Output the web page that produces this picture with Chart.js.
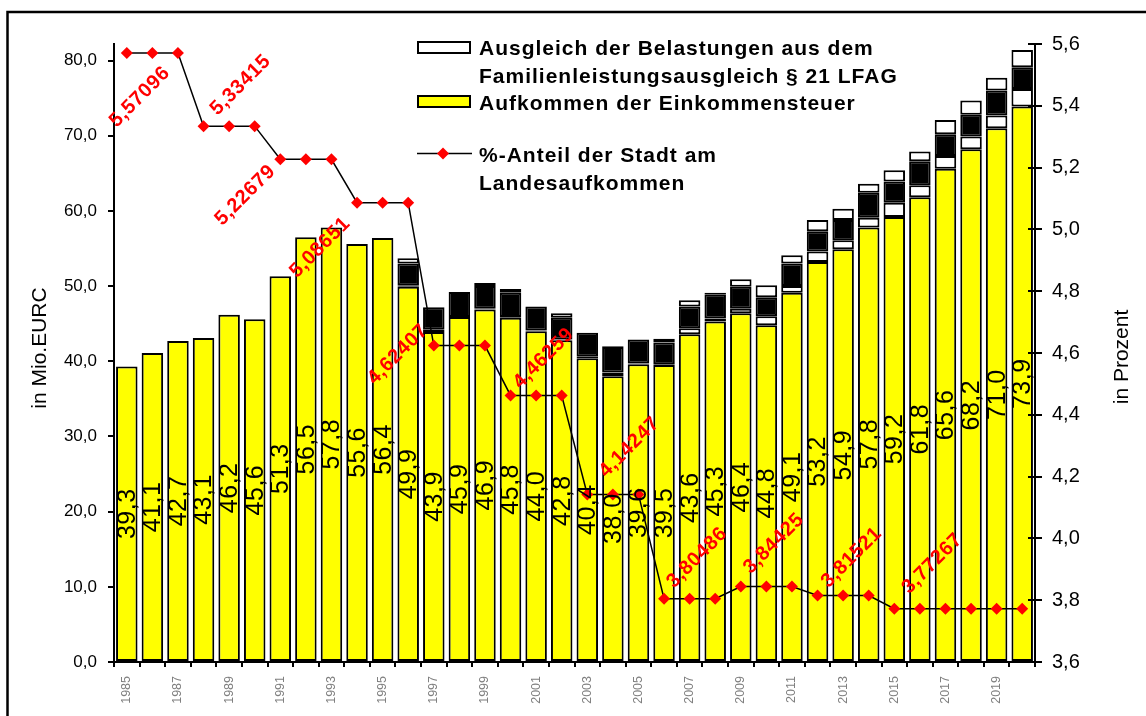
<!DOCTYPE html>
<html><head><meta charset="utf-8">
<script src="https://cdn.jsdelivr.net/npm/chart.js@4/dist/chart.umd.min.js"></script>
<style>html,body{margin:0;padding:0;background:#fff;}canvas{display:block;}</style>
</head><body>
<canvas id="c" width="1146" height="716"></canvas>
<script>
// ---------- DATA ----------
const years = ['1985','1986','1987','1988','1989','1990','1991','1992','1993','1994','1995','1996',
  '1997','1998','1999','2000','2001','2002','2003','2004','2005','2006','2007','2008','2009','2010',
  '2011','2012','2013','2014','2015','2016','2017','2018','2019','2020'];
const incomeTax = [39.3,41.1,42.7,43.1,46.2,45.6,51.3,56.5,57.8,55.6,56.4,49.9,
  43.9,45.9,46.9,45.8,44.0,42.8,40.4,38.0,39.6,39.5,43.6,45.3,46.4,44.8,
  49.1,53.2,54.9,57.8,59.2,61.8,65.6,68.2,71.0,73.9];
const ausgleichLower = [0,0,0,0,0,0,0,0,0,0,0,0.2,
  0.3,0,0.1,0.1,0.1,0.1,0.2,0.5,0.1,0.1,0.8,0.4,0.6,1.2,
  0.9,1.4,1.2,1.3,1.9,1.6,1.7,1.7,1.7,2.3];
const blackPart = [0,0,0,0,0,0,0,0,0,0,0,2.9,
  3.0,3.3,3.0,3.2,3.2,2.9,3.2,3.4,3.2,2.9,2.9,3.2,2.9,2.5,
  3.0,2.7,2.7,3.3,2.8,3.2,2.9,2.9,3.3,2.9];
const ausgleichUpper = [0,0,0,0,0,0,0,0,0,0,0,0.7,
  0,0,0.4,0.5,0,0.6,0,0.1,0,0.5,0.8,0.2,1.0,1.6,
  1.1,1.5,1.5,1.2,1.5,1.3,1.9,1.9,1.7,2.3];
const shareCity = [5.57096,5.57096,5.57096,5.33415,5.33415,5.33415,5.22679,5.22679,5.22679,
  5.08651,5.08651,5.08651,4.62407,4.62407,4.62407,4.46259,4.46259,4.46259,
  4.14247,4.14247,4.14247,3.80486,3.80486,3.80486,3.84425,3.84425,3.84425,
  3.81521,3.81521,3.81521,3.77267,3.77267,3.77267,3.77267,3.77267,3.77267];
const shareLabelIdx = [0,3,6,9,12,15,18,21,24,27,30];
const leftTicks = [0,10,20,30,40,50,60,70,80];
const rightTicks = [3.6,3.8,4.0,4.2,4.4,4.6,4.8,5.0,5.2,5.4,5.6];
const legendAusgleich = ['Ausgleich der Belastungen aus dem','Familienleistungsausgleich § 21 LFAG'];
const legendSteuer = ['Aufkommen der Einkommensteuer'];
const legendShare = ['%-Anteil der Stadt am','Landesaufkommen'];
const titleLeft = 'in Mio.EURC';
const titleRight = 'in Prozent';

// ---------- STYLE ----------
const FONT = '"Liberation Sans", Arial, Helvetica, sans-serif';
Chart.defaults.font.family = FONT;
const shareLabelOffsets = [[13,44],[37,-41],[-35,36],[-37,45],[-36,9],[33,-37],[42,-47],[33,-41],[33,-43],[34,-38],[38,-45]];
const fmt1 = v => Number(v).toFixed(1).replace('.', ',');

const decorPlugin = {
  id: 'decor',
  afterDatasetsDraw(chart) {
    const ctx = chart.ctx;
    // bar value labels (center of yellow segment)
    const mBar = chart.getDatasetMeta(0);
    ctx.save();
    ctx.font = '25px ' + FONT;
    ctx.letterSpacing = '0.5px';
    ctx.fillStyle = '#000';
    ctx.textAlign = 'center';
    ctx.textBaseline = 'middle';
    mBar.data.forEach((el, i) => {
      const cy = (el.y + el.base) / 2;
      ctx.save();
      ctx.translate(el.x + 1, cy);
      ctx.rotate(-Math.PI / 2);
      ctx.fillText(fmt1(incomeTax[i]), 0, 0);
      ctx.restore();
    });
    ctx.restore();
    // share labels
    const mLine = chart.getDatasetMeta(4);
    ctx.save();
    ctx.font = 'bold 20px ' + FONT;
    ctx.letterSpacing = '0.6px';
    ctx.fillStyle = '#ff0000';
    ctx.textAlign = 'center';
    ctx.textBaseline = 'middle';
    shareLabelIdx.forEach((idx, k) => {
      const el = mLine.data[idx];
      const o = shareLabelOffsets[k];
      ctx.save();
      ctx.translate(el.x + o[0], el.y + o[1]);
      ctx.rotate(-Math.PI / 4);
      ctx.fillText(String(shareCity[idx]).replace('.', ','), 0, 0);
      ctx.restore();
    });
    ctx.restore();
  },
  afterDraw(chart) {
    const ctx = chart.ctx;
    ctx.save();
    // inner tick marks of the right axis
    const y1 = chart.scales.y1;
    ctx.strokeStyle = '#000';
    ctx.lineWidth = 2;
    y1.ticks.forEach(t => {
      const py = Math.round(y1.getPixelForValue(t.value));
      ctx.beginPath(); ctx.moveTo(y1.left - 7, py); ctx.lineTo(y1.left, py); ctx.stroke();
    });
    // frame
    ctx.lineWidth = 2.5;
    ctx.strokeRect(7.5, 12, 1150, 720);
    // axis titles
    ctx.fillStyle = '#000';
    ctx.font = '21px ' + FONT;
    ctx.textAlign = 'center';
    ctx.textBaseline = 'middle';
    ctx.save(); ctx.translate(40, 348); ctx.rotate(-Math.PI/2); ctx.fillText(titleLeft, 0, 0); ctx.restore();
    ctx.save(); ctx.translate(1122, 357); ctx.rotate(-Math.PI/2); ctx.fillText(titleRight, 0, 0); ctx.restore();
    // legend
    ctx.lineWidth = 2;
    ctx.strokeStyle = '#000';
    ctx.fillStyle = '#ffffff';
    ctx.fillRect(418, 42, 52, 11); ctx.strokeRect(418, 42, 52, 11);
    ctx.fillStyle = '#ffff00';
    ctx.fillRect(418, 96, 52, 11); ctx.strokeRect(418, 96, 52, 11);
    ctx.lineWidth = 1.5;
    ctx.beginPath(); ctx.moveTo(417, 153.5); ctx.lineTo(472, 153.5); ctx.stroke();
    ctx.fillStyle = '#ff0000';
    ctx.beginPath(); ctx.moveTo(443, 147.5); ctx.lineTo(449, 153.5); ctx.lineTo(443, 159.5); ctx.lineTo(437, 153.5); ctx.closePath(); ctx.fill();
    ctx.fillStyle = '#000';
    ctx.font = 'bold 21px ' + FONT;
    ctx.letterSpacing = '1px';
    ctx.textAlign = 'left';
    ctx.textBaseline = 'alphabetic';
    ctx.fillText(legendAusgleich[0], 479, 54.5);
    ctx.fillText(legendAusgleich[1], 479, 82.5);
    ctx.fillText(legendSteuer[0], 479, 109.5);
    ctx.fillText(legendShare[0], 479, 161.5);
    ctx.fillText(legendShare[1], 479, 190);
    ctx.restore();
  }
};

const barCommon = {
  type: 'bar', stack: 's', yAxisID: 'y', order: 1,
  borderColor: '#000', borderWidth: 2, borderSkipped: false,
  categoryPercentage: 1.0, barPercentage: 0.84
};

new Chart(document.getElementById('c'), {
  data: {
    labels: years,
    datasets: [
      Object.assign({}, barCommon, { label: legendSteuer[0], data: incomeTax, backgroundColor: '#ffff00' }),
      Object.assign({}, barCommon, { label: legendAusgleich.join(' '), data: ausgleichLower, backgroundColor: '#ffffff' }),
      Object.assign({}, barCommon, { label: '', data: blackPart, backgroundColor: '#000000' }),
      Object.assign({}, barCommon, { label: legendAusgleich.join(' '), data: ausgleichUpper, backgroundColor: '#ffffff' }),
      { type: 'line', label: legendShare.join(' '), data: shareCity, yAxisID: 'y1', order: 0,
        borderColor: '#000', borderWidth: 1.5, pointStyle: 'rectRot', pointRadius: 6,
        pointBackgroundColor: '#ff0000', pointBorderColor: '#ff0000', pointBorderWidth: 0, tension: 0 }
    ]
  },
  options: {
    responsive: false, animation: false, devicePixelRatio: 1, events: [],
    layout: { padding: { top: 44, left: 0, right: 0, bottom: 0 } },
    plugins: { legend: { display: false }, tooltip: { enabled: false } },
    scales: {
      x: {
        stacked: true,
        afterFit(s) { s.height = 54; },
        border: { color: '#000', width: 2 },
        grid: { offset: true, drawOnChartArea: false, color: '#000', lineWidth: 2, tickLength: 5 },
        ticks: {
          autoSkip: false, maxRotation: 90, minRotation: 90, padding: 9,
          color: '#7f7f7f', font: { size: 12.5 },
          callback: function(v, i) { return i % 2 === 0 ? this.getLabelForValue(v) : ''; }
        }
      },
      y: {
        stacked: true, position: 'left', min: 0, max: 82.2,
        afterFit(s) { s.width = 114; },
        afterBuildTicks(s) { s.ticks = leftTicks.map(v => ({ value: v })); },
        border: { color: '#000', width: 2 },
        grid: { drawOnChartArea: false, color: '#000', lineWidth: 2, tickLength: 6 },
        ticks: { padding: 11, color: '#000', font: { size: 17 }, callback: v => fmt1(v) }
      },
      y1: {
        position: 'right', min: 3.6, max: 5.6,
        afterFit(s) { s.width = 111; },
        afterBuildTicks(s) { s.ticks = rightTicks.map(v => ({ value: v })); },
        border: { color: '#000', width: 2 },
        grid: { drawOnChartArea: false, color: '#000', lineWidth: 2, tickLength: 7 },
        ticks: { padding: 10, color: '#000', font: { size: 20 }, callback: v => fmt1(v) }
      }
    }
  },
  plugins: [decorPlugin]
});
</script>
</body></html>
